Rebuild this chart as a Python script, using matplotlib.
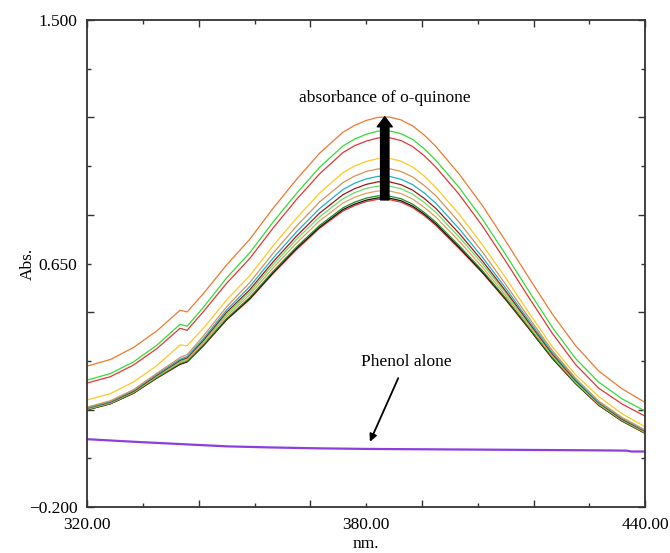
import matplotlib
matplotlib.use("Agg")
import matplotlib.pyplot as plt

plt.rcParams['font.family'] = ['Liberation Serif', 'DejaVu Serif']
plt.rcParams['axes.unicode_minus'] = True

wavelength = [320, 325, 330, 335, 340, 341.5, 345, 350, 355, 360, 365, 370, 375, 377.5,
              380, 382.5, 385, 387.5, 390, 392.5, 395, 400, 405, 410, 415, 420, 425, 430, 435, 440]

orange = [0.292, 0.315, 0.357, 0.415, 0.487, 0.481, 0.545, 0.645, 0.735, 0.843, 0.943, 1.035, 1.108, 1.132,
          1.149, 1.160, 1.161, 1.151, 1.130, 1.098, 1.058, 0.962, 0.852, 0.728, 0.600, 0.474, 0.364, 0.275, 0.213, 0.165]
green = [0.243, 0.266, 0.307, 0.365, 0.438, 0.431, 0.497, 0.600, 0.688, 0.795, 0.894, 0.986, 1.060, 1.084,
         1.101, 1.112, 1.113, 1.103, 1.083, 1.050, 1.010, 0.915, 0.805, 0.681, 0.553, 0.428, 0.319, 0.236, 0.178, 0.135]
red = [0.233, 0.255, 0.296, 0.353, 0.424, 0.417, 0.482, 0.581, 0.668, 0.774, 0.873, 0.963, 1.037, 1.061,
       1.077, 1.088, 1.089, 1.079, 1.058, 1.026, 0.986, 0.891, 0.781, 0.658, 0.531, 0.407, 0.298, 0.215, 0.160, 0.117]
yellow = [0.174, 0.196, 0.237, 0.294, 0.366, 0.363, 0.424, 0.523, 0.608, 0.712, 0.808, 0.896, 0.967, 0.990,
          1.006, 1.016, 1.017, 1.007, 0.987, 0.955, 0.915, 0.822, 0.715, 0.600, 0.478, 0.360, 0.262, 0.186, 0.126, 0.080]
tan = [0.149, 0.171, 0.210, 0.267, 0.322, 0.332, 0.397, 0.499, 0.584, 0.686, 0.780, 0.865, 0.932, 0.955,
       0.971, 0.980, 0.981, 0.971, 0.952, 0.922, 0.886, 0.794, 0.690, 0.577, 0.461, 0.347, 0.250, 0.170, 0.113, 0.069]
cyan = [0.146, 0.168, 0.207, 0.263, 0.316, 0.325, 0.388, 0.488, 0.570, 0.669, 0.760, 0.842, 0.908, 0.930,
        0.945, 0.954, 0.954, 0.944, 0.925, 0.896, 0.860, 0.771, 0.672, 0.564, 0.451, 0.340, 0.246, 0.166, 0.110, 0.066]
darkred = [0.145, 0.166, 0.204, 0.260, 0.312, 0.321, 0.382, 0.480, 0.559, 0.656, 0.745, 0.826, 0.890, 0.911,
           0.926, 0.935, 0.935, 0.925, 0.906, 0.877, 0.842, 0.755, 0.659, 0.554, 0.444, 0.335, 0.242, 0.164, 0.107, 0.064]
lightgreen = [0.143, 0.165, 0.203, 0.258, 0.308, 0.317, 0.377, 0.473, 0.551, 0.646, 0.734, 0.813, 0.876, 0.897,
              0.912, 0.920, 0.920, 0.911, 0.892, 0.863, 0.828, 0.742, 0.649, 0.547, 0.439, 0.331, 0.240, 0.162, 0.106, 0.062]
tan2 = [0.142, 0.163, 0.201, 0.255, 0.305, 0.313, 0.372, 0.466, 0.542, 0.635, 0.721, 0.799, 0.861, 0.881,
        0.895, 0.903, 0.903, 0.894, 0.875, 0.846, 0.812, 0.728, 0.637, 0.538, 0.433, 0.327, 0.236, 0.159, 0.104, 0.060]
darkgreen = [0.140, 0.161, 0.198, 0.252, 0.301, 0.309, 0.366, 0.458, 0.532, 0.623, 0.707, 0.783, 0.844, 0.864,
             0.878, 0.886, 0.885, 0.876, 0.857, 0.828, 0.794, 0.712, 0.625, 0.529, 0.426, 0.322, 0.233, 0.157, 0.101, 0.058]
black = [0.140, 0.161, 0.198, 0.251, 0.299, 0.307, 0.364, 0.455, 0.528, 0.618, 0.702, 0.777, 0.838, 0.857,
         0.871, 0.879, 0.878, 0.869, 0.850, 0.822, 0.788, 0.706, 0.620, 0.526, 0.424, 0.320, 0.232, 0.156, 0.101, 0.058]
bottom = [0.139, 0.160, 0.197, 0.250, 0.298, 0.306, 0.362, 0.453, 0.525, 0.615, 0.698, 0.773, 0.833, 0.852,
          0.866, 0.874, 0.873, 0.864, 0.845, 0.817, 0.783, 0.702, 0.617, 0.523, 0.422, 0.319, 0.231, 0.155, 0.100, 0.057]

phenol_wl = [320, 330, 340, 350, 360, 370, 380, 390, 400, 410, 420, 430, 436, 437, 440]
phenol = [0.037, 0.028, 0.020, 0.012, 0.008, 0.005, 0.003, 0.002, 0.001, 0.000, -0.001, -0.002,
          -0.003, -0.006, -0.006]

series = [
    (bottom, '#EE3333'), (black, '#111111'), (darkgreen, '#1E8C1E'), (tan2, '#E0A060'),
    (lightgreen, '#66E066'), (darkred, '#A01818'), (cyan, '#20B0C8'), (tan, '#D4935A'),
    (yellow, '#FFC826'), (red, '#E03838'), (green, '#33DD33'), (orange, '#F07830'),
]

x_major = [320, 344, 368, 380, 392, 416, 440]
x_major_labels = ['320.00', '', '', '380.00', '', '', '440.00']
x_minor = [332, 356, 404, 428]
y_major = [-0.2, 0.14, 0.48, 0.65, 0.82, 1.16, 1.5]
y_major_labels = ['\u22120.200', '', '', '0.650', '', '', '1.500']
y_minor = [-0.03, 0.31, 0.99, 1.33]

fig = plt.figure(figsize=(6.70, 5.53), dpi=100)
ax = fig.add_axes([0.130, 0.083, 0.833, 0.881])

for vals, col in series:
    ax.plot(wavelength, vals, color=col, lw=0.9)
ax.plot(phenol_wl, phenol, color='#8B3FE0', lw=1.6)

ax.set_xlim(320, 440)
ax.set_ylim(-0.2, 1.5)

ax.set_xticks(x_major)
ax.set_xticklabels(x_major_labels)
ax.set_xticks(x_minor, minor=True)
ax.set_yticks(y_major)
ax.set_yticklabels(y_major_labels)
ax.set_yticks(y_minor, minor=True)
ax.tick_params(which='both', direction='in', top=True, right=True, labelsize=12.5,
               width=1.0, color='#333333')
ax.tick_params(which='major', length=5, pad=7)
ax.tick_params(which='minor', length=3)
for t in ax.xaxis.get_major_ticks()[3:4] + ax.yaxis.get_major_ticks()[3:4]:
    t.tick1line.set_markersize(3)
    t.tick2line.set_markersize(3)
for sp in ax.spines.values():
    sp.set_linewidth(1.3)
    sp.set_color('#333333')

ax.set_xlabel('nm.', fontsize=12.5, labelpad=2)
ax.set_ylabel('Abs.', fontsize=12.5, labelpad=-5)

ax.annotate('', xy=(384.0, 1.162), xytext=(384.0, 0.872),
            arrowprops=dict(arrowstyle='simple,head_width=0.9,head_length=0.6,tail_width=0.5',
                            color='black', mutation_scale=12, shrinkA=0, shrinkB=0))
ax.text(384.0, 1.228, 'absorbance of o-quinone', ha='center', va='center', fontsize=12.5)

ax.annotate('', xy=(380.8, 0.028), xytext=(386.9, 0.25),
            arrowprops=dict(arrowstyle='-|>', color='black', lw=1.3, mutation_scale=11,
                            shrinkA=0, shrinkB=0))
ax.text(388.6, 0.306, 'Phenol alone', ha='center', va='center', fontsize=12.5)

fig.savefig('out.png', dpi=100)
